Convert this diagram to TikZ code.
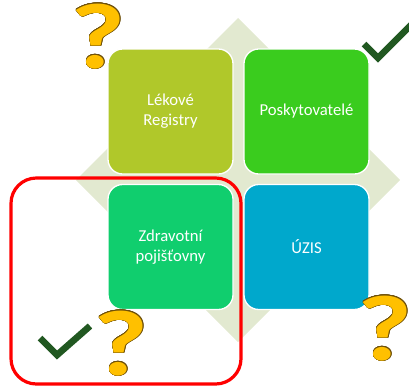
\documentclass[tikz,border=0pt]{standalone}
\usepackage{fontspec}
\setmainfont{Carlito}
\usepackage{contour}
\contourlength{0.3pt}
\definecolor{diamondgrey}{RGB}{226,233,208}
\definecolor{lekgreen}{RGB}{176,200,42}
\definecolor{poskgreen}{RGB}{58,204,30}
\definecolor{zpgreen}{RGB}{16,206,110}
\definecolor{uzisblue}{RGB}{0,168,204}
\definecolor{qyellow}{RGB}{255,192,0}
\definecolor{qedge}{RGB}{110,80,10}
\definecolor{tickgreen}{RGB}{33,88,33}
\tikzset{every picture/.style={line width=0.75pt}}
\tikzset{
  tile/.style={draw=white, line width=1pt, rounded corners=11pt, minimum width=93.75pt, minimum height=93.75pt, inner sep=0pt, align=center, text=white, font=\fontsize{12.5}{15}\selectfont},
  qmark/.style={text=qyellow, inner sep=0pt, anchor=base, xscale=1.27, font=\fontsize{70}{70}\selectfont\bfseries},
  tick/.style={draw=tickgreen, line width=5pt, line join=miter}
}
\newcommand{\qsign}{\contour{qedge}{?}}

\begin{document}
\begin{tikzpicture}[x=0.75pt,y=0.75pt,yscale=-1,xscale=1]
\useasboundingbox (0,0) rectangle (409,386);

%Shape: Diamond
\fill [diamondgrey] (238,18) -- (400,180) -- (238,342) -- (76,180) -- cycle ;

%Shape: Rounded Rect
\node [tile, fill=lekgreen] (lek) at (170.5,111.5) {Lékové\\Registry};
%Shape: Rounded Rect
\node [tile, fill=poskgreen] (posk) at (306.5,111.5) {Poskytovatelé};
%Shape: Rounded Rect
\node [tile, fill=zpgreen] (zp) at (170.5,247) {Zdravotní\\pojišťovny};
%Shape: Rounded Rect
\node [tile, fill=uzisblue] (uzis) at (306.5,247) {ÚZIS};

%Shape: Rounded Rect
\draw [red, line width=2.4pt, rounded corners=19pt] (11,178) rectangle (241,384) ;

%Straight Lines
\draw [tick] (364,44) -- (378,58) -- (416,20) ;
%Straight Lines
\draw [tick] (40,338) -- (57,355) -- (90,326) ;

% Text Node
\node [qmark] (q1) at (98,68) {\qsign};
% Text Node
\node [qmark] (q2) at (385,360) {\qsign};
% Text Node
\node [qmark] (q3) at (121,375) {\qsign};
\end{tikzpicture}
\end{document}
